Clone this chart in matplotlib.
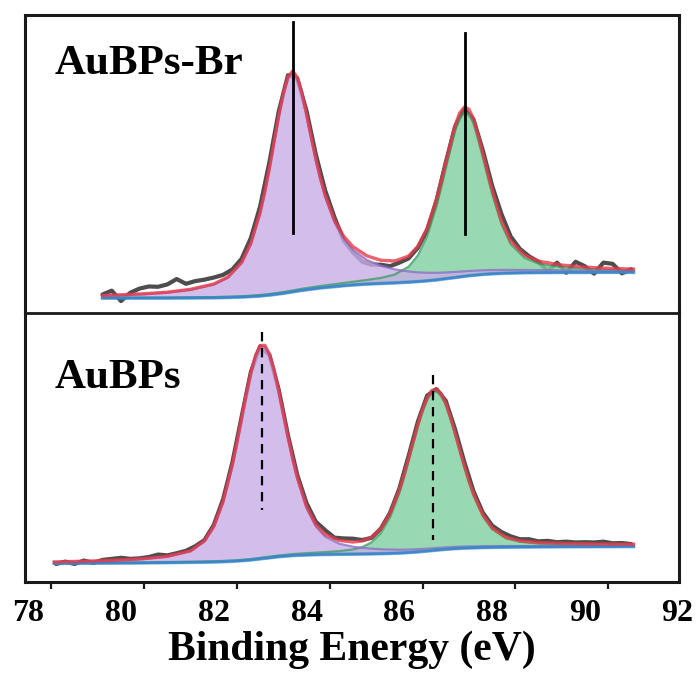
import matplotlib.pyplot as plt

plt.rcParams['font.family'] = ['Liberation Serif', 'DejaVu Serif']

# spectre AuBPs-Br (panneau du haut)
x_haut = [79.6, 80.0, 80.5, 81.0, 81.5, 82.0, 82.3, 82.6, 82.8, 83.0, 83.1, 83.2, 83.3, 83.4,
          83.5, 83.6, 83.7, 83.8, 83.9, 84.0, 84.1, 84.2, 84.3, 84.4, 84.6, 84.8, 85.0, 85.3,
          85.6, 85.9, 86.2, 86.4, 86.6, 86.8, 86.9, 87.0, 87.1, 87.2, 87.3, 87.4, 87.5, 87.6,
          87.7, 87.8, 87.9, 88.0, 88.2, 88.4, 88.7, 89.0, 89.5, 90.0, 90.5, 91.05]
fond_haut = [5.0, 5.0, 5.0, 5.0, 5.05, 5.1, 5.2, 5.35, 5.5, 5.7, 5.85, 6.0, 6.2, 6.4,
             6.6, 6.85, 7.1, 7.35, 7.6, 7.8, 8.0, 8.2, 8.4, 8.55, 8.85, 9.15, 9.4, 9.7,
             9.9, 10.1, 10.35, 10.55, 10.8, 11.1, 11.3, 11.5, 11.7, 11.9, 12.1, 12.3, 12.5, 12.65,
             12.8, 12.95, 13.05, 13.15, 13.3, 13.4, 13.5, 13.55, 13.6, 13.6, 13.65, 13.65]
au72_haut = [0.81, 0.99, 1.32, 1.83, 2.71, 4.42, 6.58, 11.35, 17.6, 27.8, 34.5, 42.3, 50.8, 59.3,
             66.8, 72.0, 73.6, 71.3, 65.8, 58.4, 50.5, 42.9, 36.2, 30.4, 21.6, 15.7, 11.8, 8.1,
             5.95, 4.55, 3.58, 3.09, 2.70, 2.38, 2.24, 2.11, 1.99, 1.88, 1.78, 1.69, 1.60, 1.52,
             1.45, 1.38, 1.32, 1.26, 1.15, 1.06, 0.94, 0.84, 0.70, 0.59, 0.51, 0.44]
au52_haut = [0.11, 0.12, 0.14, 0.16, 0.19, 0.22, 0.25, 0.28, 0.31, 0.34, 0.35, 0.37, 0.38, 0.40,
             0.42, 0.45, 0.47, 0.50, 0.52, 0.55, 0.59, 0.62, 0.66, 0.70, 0.80, 0.92, 1.08, 1.38,
             1.86, 2.79, 5.17, 8.72, 15.0, 24.6, 30.5, 36.8, 43.0, 49.1, 53.2, 55.1, 54.3, 51.0,
             45.4, 39.3, 33.0, 26.9, 16.6, 9.73, 5.0, 3.0, 1.8, 1.2, 0.85, 0.62]

x_brut_haut = [79.6, 79.8, 80.0, 80.2, 80.4, 80.6, 80.8, 81.0, 81.2, 81.4, 81.6, 81.8, 82.0, 82.2,
               82.4, 82.6, 82.8, 83.0, 83.2, 83.4, 83.6, 83.8, 84.0, 84.2, 84.4, 84.6, 84.8, 85.0,
               85.2, 85.4, 85.6, 85.8, 86.0, 86.2, 86.4, 86.6, 86.8, 87.0, 87.2, 87.4, 87.6, 87.8,
               88.0, 88.2, 88.4, 88.6, 88.8, 89.0, 89.2, 89.4, 89.6, 89.8, 90.0, 90.2, 90.4, 90.6,
               90.8, 91.0]
brut_haut = [6.2, 7.5, 4.0, 6.8, 8.2, 8.9, 8.8, 9.6, 11.4, 9.8, 10.7, 11.2, 11.9, 12.8,
             14.6, 18.2, 25.2, 35.8, 50.7, 67.6, 79.8, 78.6, 67.8, 53.2, 41.2, 32.2, 24.3, 20.3,
             17.2, 16.2, 16.2, 15.7, 16.9, 18.3, 21.9, 27.7, 37.6, 50.4, 62.4, 68.3, 64.9, 54.6,
             42.8, 33.3, 25.7, 21.5, 19.0, 17.2, 14.0, 16.9, 13.5, 17.2, 15.7, 13.2, 16.9, 16.5,
             13.3, 14.7]

# spectre AuBPs (panneau du bas)
x_bas = [78.56, 79.0, 79.5, 80.0, 80.5, 81.0, 81.5, 81.8, 82.0, 82.2, 82.4, 82.5, 82.6, 82.7,
         82.8, 82.9, 83.0, 83.1, 83.2, 83.3, 83.4, 83.5, 83.6, 83.7, 83.8, 84.0, 84.2, 84.4,
         84.7, 85.0, 85.2, 85.4, 85.6, 85.8, 86.0, 86.1, 86.2, 86.3, 86.4, 86.5, 86.6, 86.7,
         86.8, 86.9, 87.0, 87.1, 87.2, 87.3, 87.4, 87.5, 87.6, 87.8, 88.0, 88.3, 88.6, 89.0,
         89.5, 90.0, 90.5, 91.05]
fond_bas = [6.9, 6.95, 7.0, 7.05, 7.1, 7.2, 7.3, 7.38, 7.45, 7.55, 7.7, 7.8, 7.92, 8.05,
            8.2, 8.4, 8.6, 8.8, 9.0, 9.2, 9.4, 9.55, 9.7, 9.82, 9.92, 10.05, 10.15, 10.22,
            10.3, 10.35, 10.4, 10.45, 10.52, 10.62, 10.75, 10.85, 10.95, 11.07, 11.2, 11.35, 11.5, 11.67,
            11.85, 12.0, 12.15, 12.28, 12.4, 12.5, 12.58, 12.65, 12.7, 12.8, 12.87, 12.95, 13.0, 13.05,
            13.1, 13.12, 13.15, 13.18]
au72_bas = [0.49, 0.60, 0.77, 1.04, 1.46, 2.21, 4.12, 7.74, 13.0, 22.1, 35.6, 43.9, 52.7, 61.5,
            69.3, 75.5, 78.9, 78.8, 75.4, 69.2, 61.3, 52.5, 43.8, 35.7, 28.5, 17.4, 10.5, 6.65,
            3.96, 2.78, 2.29, 1.94, 1.66, 1.44, 1.26, 1.18, 1.11, 1.05, 0.99, 0.93, 0.88, 0.83,
            0.79, 0.75, 0.72, 0.68, 0.65, 0.62, 0.59, 0.57, 0.54, 0.50, 0.46, 0.41, 0.37, 0.32,
            0.27, 0.23, 0.20, 0.18]
au52_bas = [0.08, 0.09, 0.10, 0.12, 0.13, 0.16, 0.19, 0.21, 0.23, 0.25, 0.27, 0.29, 0.30, 0.31,
            0.33, 0.35, 0.36, 0.38, 0.41, 0.43, 0.45, 0.48, 0.51, 0.54, 0.58, 0.66, 0.76, 0.89,
            1.17, 1.74, 2.56, 4.26, 7.57, 13.35, 22.2, 27.8, 33.9, 40.2, 46.4, 51.9, 56.1, 58.7,
            59.1, 57.3, 53.7, 48.5, 42.6, 36.3, 30.2, 24.5, 19.5, 11.7, 6.83, 3.28, 1.95, 1.26,
            1.0, 0.85, 0.75, 0.70]

x_brut_bas = [78.6, 78.8, 79.0, 79.2, 79.4, 79.6, 79.8, 80.0, 80.2, 80.4, 80.6, 80.8, 81.0, 81.2,
              81.4, 81.6, 81.8, 82.0, 82.2, 82.4, 82.6, 82.8, 83.0, 83.2, 83.4, 83.6, 83.8, 84.0,
              84.2, 84.4, 84.6, 84.8, 85.0, 85.2, 85.4, 85.6, 85.8, 86.0, 86.2, 86.4, 86.6, 86.8,
              87.0, 87.2, 87.4, 87.6, 87.8, 88.0, 88.2, 88.4, 88.6, 88.8, 89.0, 89.2, 89.4, 89.6,
              89.8, 90.0, 90.2, 90.4, 90.6, 90.8, 91.0]
brut_bas = [6.7, 7.6, 6.7, 8.0, 7.1, 8.2, 8.6, 9.0, 8.6, 8.8, 9.3, 10.2, 9.9, 10.7,
            11.6, 13.3, 15.6, 21.2, 30.7, 44.4, 61.4, 78.1, 87.6, 84.3, 71.5, 54.5, 39.8, 29.3,
            22.4, 19.3, 16.5, 16.2, 16.1, 15.6, 16.4, 19.8, 25.7, 34.7, 46.8, 59.6, 69.3, 71.7,
            67.4, 56.9, 44.7, 33.7, 25.8, 21.0, 18.6, 17.0, 15.9, 15.9, 15.1, 15.3, 14.8, 15.0,
            14.7, 14.8, 14.7, 15.0, 14.4, 14.5, 14.1]

pics_haut = [83.70, 87.42]
traits_haut = [(97.7, 26.7), (93.9, 26.5)]
pics_bas = [83.04, 86.73]
traits_bas = [(92.9, 26.8), (77.0, 15.6)]

positions_ticks = [78, 80, 82, 84, 86, 88, 90, 92]
marques_ticks = [78.5, 80.5, 82.5, 84.5, 86.5, 88.5, 90.5]


def trace_spectre(ax, x, fond, p1, p2, xb, yb):
    haut1 = [f + a for f, a in zip(fond, p1)]
    haut2 = [f + b for f, b in zip(fond, p2)]
    enveloppe = [f + a + b for f, a, b in zip(fond, p1, p2)]
    ax.plot(xb, yb, color='#4d4d4d', lw=3.0, zorder=1, solid_capstyle='round')
    ax.fill_between(x, fond, haut2, color='#7fcf9f', alpha=0.8, lw=0, zorder=2)
    ax.fill_between(x, fond, haut1, color='#c9aee6', alpha=0.8, lw=0, zorder=3)
    ax.plot(x, haut2, color='#3f9e66', lw=1.6, alpha=0.8, zorder=4)
    ax.plot(x, haut1, color='#8d70c8', lw=1.6, alpha=0.8, zorder=4)
    ax.plot(x, fond, color='#2e9aa8', lw=2.6, alpha=0.6, zorder=5)
    ax.plot(x, fond, color='#3d7fd4', lw=1.8, alpha=0.85, zorder=5)
    ax.plot(x, enveloppe, color='#e63a4a', lw=2.4, alpha=0.8, zorder=6)


fig = plt.figure(figsize=(6.97, 6.73), dpi=100)
ax1 = fig.add_axes([25 / 697, 1 - 313 / 673, 654 / 697, 298 / 673])
ax2 = fig.add_axes([25 / 697, 1 - 582 / 673, 654 / 697, 269 / 673])
ax2.set_facecolor('none')

trace_spectre(ax1, x_haut, fond_haut, au72_haut, au52_haut, x_brut_haut, brut_haut)
trace_spectre(ax2, x_bas, fond_bas, au72_bas, au52_bas, x_brut_bas, brut_bas)

for xp, (y0, y1) in zip(pics_haut, traits_haut):
    ax1.plot([xp, xp], [y0, y1], color='black', lw=2.0, zorder=7)
for xp, (y0, y1) in zip(pics_bas, traits_bas):
    ax2.plot([xp, xp], [y0, y1], color='black', lw=1.6, dashes=(4.2, 3.0), zorder=7)

for ax in [ax1, ax2]:
    ax.set_xlim(77.93, 92.03)
    ax.set_ylim(0, 100)
    ax.set_yticks([])
    for s in ax.spines.values():
        s.set_linewidth(2.2)
        s.set_color('#1a1a1a')

ax1.set_xticks([])
ax1.spines['bottom'].set_linewidth(2.0)
ax2.spines['top'].set_visible(False)

ax2.set_xticks(positions_ticks)
ax2.set_xticklabels([str(v) for v in positions_ticks], fontsize=23, fontweight='bold')
ax2.tick_params(axis='x', which='major', length=0, pad=12)
ax2.set_xticks(marques_ticks, minor=True)
ax2.tick_params(axis='x', which='minor', length=5, width=1.6, direction='out', color='#1a1a1a')
ax2.set_xlabel("Binding Energy (eV)", fontsize=30, fontweight='bold', labelpad=2)

ax1.text(0.046, 0.802, "AuBPs-Br", transform=ax1.transAxes, fontsize=31,
         fontweight='bold', va='baseline', ha='left')
ax2.text(0.046, 0.721, "AuBPs", transform=ax2.transAxes, fontsize=31,
         fontweight='bold', va='baseline', ha='left')

plt.savefig("out.png", dpi=100)
